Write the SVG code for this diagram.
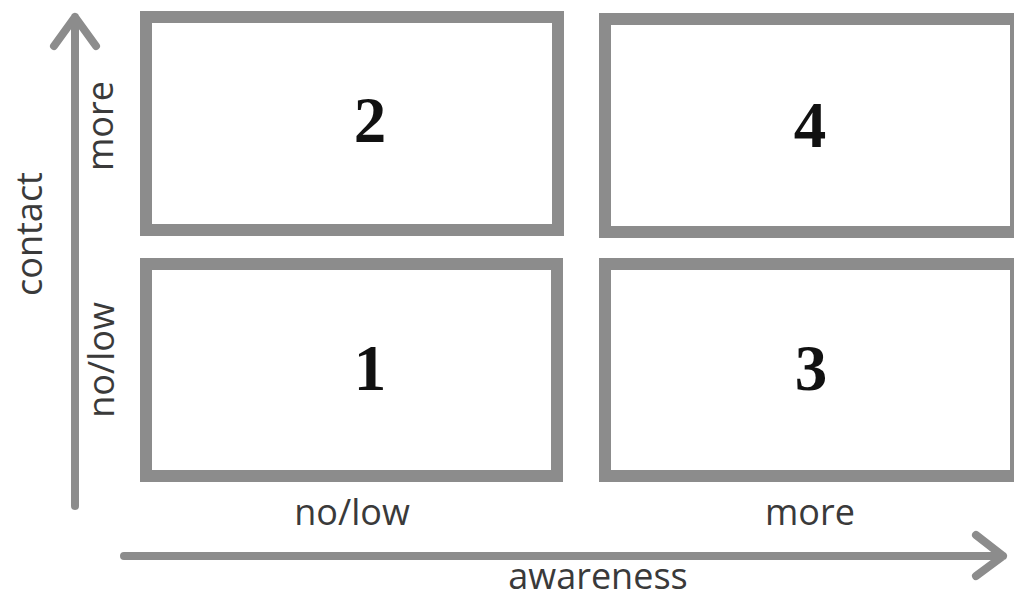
<svg xmlns="http://www.w3.org/2000/svg" width="1014" height="598" viewBox="0 0 1014 598">
<style>
.box{fill:#fff;stroke:#8c8c8c;stroke-width:12}
.ax{fill:none;stroke:#8c8c8c;stroke-width:8;stroke-linecap:round;stroke-linejoin:round}
.lbl{font-family:"Open Sans","Liberation Sans",sans-serif;font-size:36px;fill:#3a3a3a;text-anchor:middle}
.num{font-family:"Liberation Serif","DejaVu Serif",serif;font-weight:bold;font-size:65px;fill:#111;text-anchor:middle}
</style>
<rect width="1014" height="598" fill="#fff"/>
<g id="box2"><rect class="box" x="146" y="17" width="412" height="213"/><text class="num" x="370" y="142">2</text></g>
<g id="box4"><rect class="box" x="605" y="19" width="411" height="213"/><text class="num" x="810" y="147">4</text></g>
<g id="box1"><rect class="box" x="146" y="264" width="411" height="212"/><text class="num" x="370" y="390">1</text></g>
<g id="box3"><rect class="box" x="605" y="264" width="411" height="212"/><text class="num" x="811" y="390">3</text></g>
<g id="connectors">
<path class="ax" d="M75 506 V17 M54 46 L75 17 L96 46"/>
<path class="ax" d="M124 556 H1003 M976 535 L1003 556 L976 576"/>
</g>
<g id="labels">
<text class="lbl" transform="translate(42 234) rotate(-90)">contact</text>
<text class="lbl" transform="translate(113 126) rotate(-90)">more</text>
<text class="lbl" transform="translate(114 360) rotate(-90)">no/low</text>
<text class="lbl" x="352" y="525">no/low</text>
<text class="lbl" x="810" y="525">more</text>
<text class="lbl" x="598" y="589">awareness</text>
</g>
</svg>
